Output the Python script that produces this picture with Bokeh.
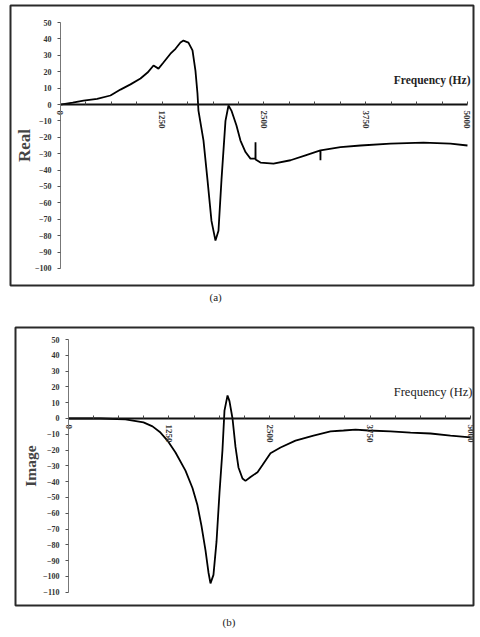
import numpy as np
from bokeh.plotting import figure
from bokeh.models import LinearAxis, FixedTicker, Range1d, Label, Title
from bokeh.embed import file_html
from bokeh.resources import INLINE

# ---- data ----
freq_real = [0, 150, 283, 450, 614, 737, 860, 983, 1070, 1143, 1204, 1265, 1351, 1413, 1474,
             1511, 1572, 1622, 1658, 1683, 1695, 1757, 1806, 1855, 1904, 1941, 1978, 2027,
             2064, 2100, 2162, 2211, 2273, 2334, 2395, 2396, 2397, 2457, 2617, 2826, 3010,
             3193, 3194, 3195, 3440, 3686, 4054, 4459, 4791, 5000]
real_vals = [0, 1.2, 2.4, 3.5, 5.5, 9.1, 12.3, 15.9, 19.5, 23.8, 21.9, 25.6, 31, 34, 37.8,
             39, 37.8, 33, 20.7, 6.7, -3.7, -22, -46, -71, -83, -77, -46, -10,
             -0.6, -3.7, -12.8, -22, -29, -33, -33, -23, -33.5, -35.4, -36, -34, -31,
             -28, -34, -28, -26, -25, -23.8, -23.2, -23.8, -25]

freq_imag = [0, 398, 708, 933, 1045, 1144, 1231, 1331, 1455, 1542, 1604, 1654, 1704, 1741,
             1766, 1803, 1841, 1878, 1915, 1940, 1978, 2002, 2040, 2077, 2114, 2164, 2201,
             2264, 2351, 2413, 2512, 2637, 2823, 3047, 3259, 3420, 3570, 3731, 4005, 4254,
             4502, 4751, 5000]
imag_vals = [0, 0, -0.6, -2.5, -5, -8.9, -14, -21.5, -33, -44, -55, -68, -83.5, -97.5,
             -104.4, -99, -78, -47, -20, 5, 14.6, 11, 0, -18, -31, -38, -39.5,
             -37, -34, -29.5, -22, -18.4, -14, -10.8, -8.2, -7.6, -7, -7.6, -8.2, -8.9,
             -9.5, -10.8, -12]

x_ticks = [0, 1250, 2500, 3750, 5000]
x_minor_ticks = [312.5, 625, 937.5, 1562.5, 1875, 2187.5, 2812.5, 3125, 3437.5,
                 4062.5, 4375, 4687.5]
real_y_ticks = [50, 40, 30, 20, 10, 0, -10, -20, -30, -40, -50, -60, -70, -80, -90, -100]
imag_y_ticks = [50, 40, 30, 20, 10, 0, -10, -20, -30, -40, -50, -60, -70, -80, -90, -100, -110]

SERIF = "Liberation Serif"


def make_panel(height, xr, yr, borders, freq, vals, y_ticks, y_label, label_size,
               label_standoff, freq_pos, freq_style, freq_size, cap, cap_offset, cap_standoff):
    left, right, top, bottom = borders
    p = figure(width=478, height=height, x_range=Range1d(*xr), y_range=Range1d(*yr),
               output_backend="svg", toolbar_location=None,
               x_axis_type=None, y_axis_type=None,
               min_border_left=left, min_border_right=right,
               min_border_top=top, min_border_bottom=bottom)
    p.outline_line_color = "#2a2a2a"
    p.outline_line_width = 2
    p.background_fill_color = "white"
    p.border_fill_color = "white"

    xaxis = LinearAxis(fixed_location=0,
                       ticker=FixedTicker(ticks=x_ticks, minor_ticks=x_minor_ticks),
                       bounds=(0, 5000))
    xaxis.major_label_orientation = "vertical"
    xaxis.major_label_text_font = SERIF
    xaxis.major_label_text_font_style = "bold"
    xaxis.major_label_text_font_size = "9px"
    xaxis.major_label_text_color = "#333333"
    xaxis.major_label_standoff = 6
    xaxis.axis_line_width = 2
    xaxis.axis_line_color = "#111111"
    xaxis.major_tick_in = 3
    xaxis.major_tick_out = 0
    xaxis.minor_tick_in = 3
    xaxis.minor_tick_out = 0
    xaxis.major_tick_line_color = "#444444"
    xaxis.minor_tick_line_color = "#444444"
    p.add_layout(xaxis, "below")

    yaxis = LinearAxis(fixed_location=0, ticker=FixedTicker(ticks=y_ticks, minor_ticks=[]),
                       bounds=(y_ticks[-1], y_ticks[0]), axis_label=y_label)
    yaxis.major_label_text_font = SERIF
    yaxis.major_label_text_font_style = "bold"
    yaxis.major_label_text_font_size = "8px"
    yaxis.major_label_text_color = "#333333"
    yaxis.major_label_standoff = 6
    yaxis.axis_line_width = 1
    yaxis.axis_line_color = "#777777"
    yaxis.major_tick_in = 0
    yaxis.major_tick_out = 3
    yaxis.major_tick_line_color = "#555555"
    yaxis.axis_label_text_font = SERIF
    yaxis.axis_label_text_font_style = "bold"
    yaxis.axis_label_text_font_size = label_size
    yaxis.axis_label_standoff = label_standoff
    p.add_layout(yaxis, "left")

    p.line(freq, vals, line_color="black", line_width=1.8)

    p.add_layout(Label(x=freq_pos[0], y=freq_pos[1], text="Frequency (Hz)",
                       text_font=SERIF, text_font_style=freq_style, text_font_size=freq_size,
                       text_align="right", text_baseline="middle", text_color="#222222"))
    p.add_layout(Title(text=cap, align="left", offset=cap_offset, standoff=cap_standoff,
                       text_font=SERIF, text_font_style="normal", text_font_size="11px",
                       text_color="#222222"), "below")
    return p


pa = make_panel(309, (-614, 5074), (-110.4, 60.4), (10, 5, 5, 24),
                freq_real, real_vals, real_y_ticks, "Real", "17px", -2,
                (5037, 15.2), "bold", "11.5px", "(a)", 199, 6)
pb = make_panel(326, (-659, 5037), (-118.4, 57.6), (15, 5, 18, 30),
                freq_imag, imag_vals, imag_y_ticks, "Image", "15.5px", 1,
                (5025, 16.5), "normal", "12.5px", "(b)", 207, 16)

open("out.html", "w").write(file_html([pa, pb], INLINE))
